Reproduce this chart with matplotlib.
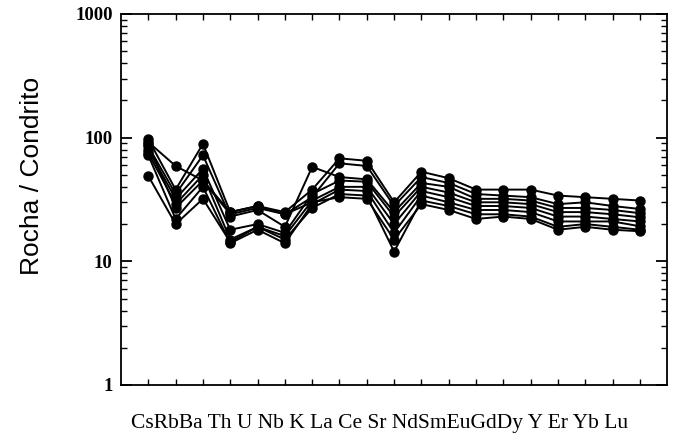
import numpy as np
import matplotlib
matplotlib.use('Agg')
import matplotlib.pyplot as plt
from matplotlib.ticker import LogLocator, NullFormatter, FixedFormatter, FixedLocator

elements = ['Cs', 'Rb', 'Ba', 'Th', 'U', 'Nb', 'K', 'La', 'Ce', 'Sr',
            'Nd', 'Sm', 'Eu', 'Gd', 'Dy', 'Y', 'Er', 'Yb', 'Lu']
x_label_text = 'CsRbBa Th U Nb K La Ce Sr NdSmEuGdDy Y Er Yb Lu'

# rock / chondrite, one list per sample
s1 = [97, 38, 89, 25, 28, 25, 38, 68, 65, 30, 53, 47, 38, 38, 38, 34, 33, 32, 31]
s2 = [92, 59, 45, 24, 27, 24, 33, 62, 59, 28, 48, 43, 35, 34, 33, 29, 30, 28, 26.5]
s3 = [85, 35, 72, 23, 26, 19, 58, 48, 46, 25, 43, 40, 32, 32, 31, 27, 27, 26, 24.5]
s4 = [80, 32, 56, 18, 20, 17, 35, 45, 44, 23, 40, 36, 30, 30, 29, 25, 25, 24, 22.7]
s5 = [75, 29, 50, 15, 19, 16, 31, 40, 40, 20, 37, 33, 28, 28, 27, 23, 23, 22, 21]
s6 = [72, 22, 40, 14, 18, 14, 29, 38, 37, 17, 34, 30, 26, 26, 25, 21, 21, 21, 19.2]
s7 = [49, 20, 32, 14.3, 19, 15, 27, 35, 34, 12, 31, 28, 24, 24, 23, 19, 20, 19, 18]
s8 = [88, 27, 45, 25, 28, 24, 30, 33, 32, 15, 29, 26, 22, 23, 22, 18, 19, 18, 17.5]
samples = [s1, s2, s3, s4, s5, s6, s7, s8]

fig = plt.figure(figsize=(6.76, 4.36), dpi=100)
ax = fig.add_axes([0.179, 0.117, 0.808, 0.851])

x = np.arange(len(elements))
for s in samples:
    ax.plot(x, s, color='black', lw=1.4, marker='o', ms=6.5,
            markerfacecolor='black', markeredgecolor='black')

ax.set_yscale('log')
ax.set_ylim(1, 1000)
ax.set_xlim(-1, 19)

ax.yaxis.set_major_locator(FixedLocator([1, 10, 100, 1000]))
ax.yaxis.set_major_formatter(FixedFormatter(['1', '10', '100', '1000']))
ax.yaxis.set_minor_locator(LogLocator(base=10, subs=np.arange(2, 10)))
ax.yaxis.set_minor_formatter(NullFormatter())

ax.set_xticks(x)
ax.set_xticklabels([])
ax.tick_params(axis='both', which='both', direction='in', top=True, right=True,
               color='black')
ax.tick_params(axis='y', which='major', length=8, width=1.3, pad=6)
ax.tick_params(axis='y', which='minor', length=4, width=1)
ax.tick_params(axis='x', which='major', length=4, width=1)
for lab in ax.get_yticklabels():
    lab.set_family('Liberation Serif')
    lab.set_fontsize(13.5)
    lab.set_fontweight('bold')

for sp in ax.spines.values():
    sp.set_linewidth(1.3)

fig.text(380 / 676, 1 - 423 / 436, x_label_text, family='Liberation Serif',
         fontsize=15.5, ha='center', va='center')
fig.text(32 / 676, 1 - 176 / 436, 'Rocha / Condrito', family='Liberation Sans',
         fontsize=19, rotation=90, ha='center', va='center')

fig.savefig('out.png', dpi=100)
